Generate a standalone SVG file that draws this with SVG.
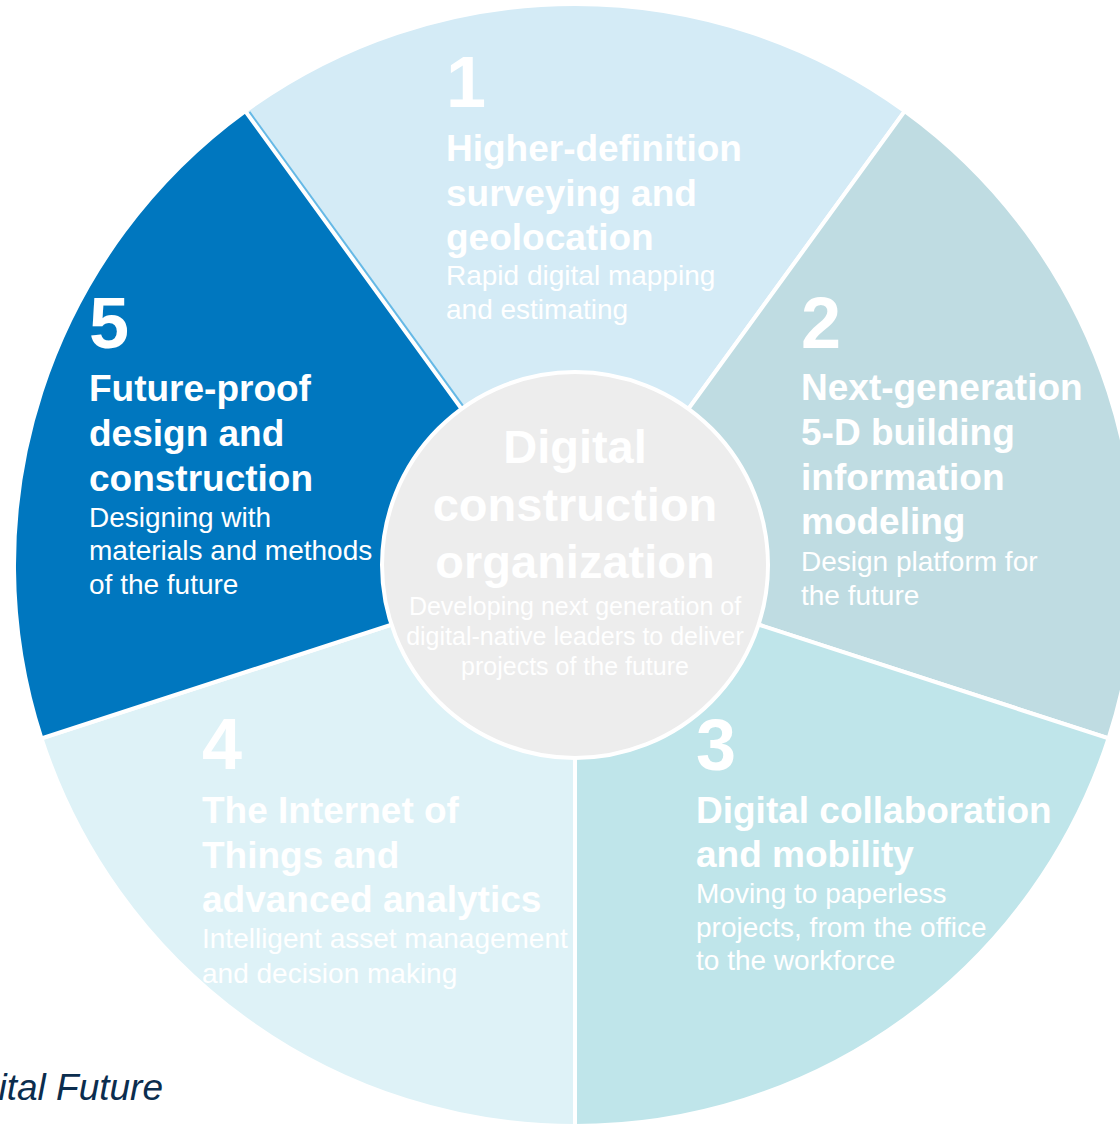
<svg xmlns="http://www.w3.org/2000/svg" width="1120" height="1125" viewBox="0 0 1120 1125">
  <style>
    .seg { stroke: #ffffff; stroke-width: 4; stroke-linejoin: miter; }
    text { font-family: "Liberation Sans", Arial, sans-serif; fill: #ffffff; }
    .num { font-size: 72px; font-weight: bold; }
    .head { font-size: 37px; font-weight: bold; }
    .sub { font-size: 28px; }
    .ctitle { font-size: 47px; font-weight: bold; text-anchor: middle; }
    .csub { font-size: 25px; text-anchor: middle; }
    .src { font-size: 37px; font-style: italic; fill: #0b2d4e; text-anchor: end; }
  </style>
  <rect x="0" y="0" width="1120" height="1125" fill="#ffffff"/>

  <g id="segment-1">
    <path class="seg" fill="#d4ebf6" d="M575,565 L245.25,111.14 A561,561 0 0 1 904.75,111.14 Z"/>
    <text class="num" x="446" y="107">1</text>
    <text class="head" x="446" y="161">Higher-definition</text>
    <text class="head" x="446" y="206">surveying and</text>
    <text class="head" x="446" y="250">geolocation</text>
    <text class="sub" x="446" y="285">Rapid digital mapping</text>
    <text class="sub" x="446" y="319">and estimating</text>
  </g>

  <g id="segment-2">
    <path class="seg" fill="#bfdce2" d="M575,565 L904.75,111.14 A561,561 0 0 1 1108.56,738.36 Z"/>
    <text class="num" x="801" y="348">2</text>
    <text class="head" x="801" y="400">Next-generation</text>
    <text class="head" x="801" y="445">5-D building</text>
    <text class="head" x="801" y="490">information</text>
    <text class="head" x="801" y="534">modeling</text>
    <text class="sub" x="801" y="571">Design platform for</text>
    <text class="sub" x="801" y="605">the future</text>
  </g>

  <g id="segment-3">
    <path class="seg" fill="#bfe5ea" d="M575,565 L1108.56,738.36 A561,561 0 0 1 575,1126 Z"/>
    <text class="num" x="696" y="770">3</text>
    <text class="head" x="696" y="823">Digital collaboration</text>
    <text class="head" x="696" y="867">and mobility</text>
    <text class="sub" x="696" y="903">Moving to paperless</text>
    <text class="sub" x="696" y="937">projects, from the office</text>
    <text class="sub" x="696" y="970">to the workforce</text>
  </g>

  <g id="segment-4">
    <path class="seg" fill="#def2f7" d="M575,565 L575,1126 A561,561 0 0 1 41.44,738.36 Z"/>
    <text class="num" x="202" y="769">4</text>
    <text class="head" x="202" y="823">The Internet of</text>
    <text class="head" x="202" y="868">Things and</text>
    <text class="head" x="202" y="912">advanced analytics</text>
    <text class="sub" x="202" y="948">Intelligent asset management</text>
    <text class="sub" x="202" y="983">and decision making</text>
  </g>

  <g id="segment-5">
    <path class="seg" fill="#0077bf" d="M575,565 L41.44,738.36 A561,561 0 0 1 245.25,111.14 Z"/>
    <text class="num" x="89" y="348">5</text>
    <text class="head" x="89" y="401">Future-proof</text>
    <text class="head" x="89" y="446">design and</text>
    <text class="head" x="89" y="491">construction</text>
    <text class="sub" x="89" y="527">Designing with</text>
    <text class="sub" x="89" y="560">materials and methods</text>
    <text class="sub" x="89" y="594">of the future</text>
  </g>

  <g id="connectors">
    <line x1="577.4" y1="563.2" x2="249.5" y2="111.9" stroke="#66b9e6" stroke-width="2"/>
  </g>

  <g id="center">
    <circle cx="575" cy="565" r="193" fill="#ededed" stroke="#ffffff" stroke-width="4"/>
    <text class="ctitle" x="575" y="463">Digital</text>
    <text class="ctitle" x="575" y="521">construction</text>
    <text class="ctitle" x="575" y="578">organization</text>
    <text class="csub" x="575" y="615">Developing next generation of</text>
    <text class="csub" x="575" y="645">digital-native leaders to deliver</text>
    <text class="csub" x="575" y="675">projects of the future</text>
  </g>

  <g id="source">
    <text class="src" x="163" y="1100">ital Future</text>
  </g>
</svg>
